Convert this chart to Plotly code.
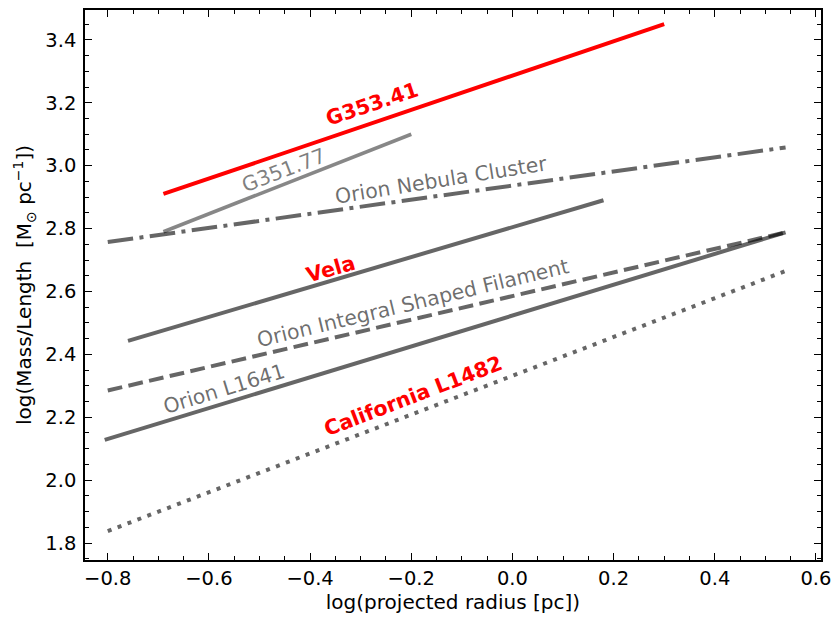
import plotly.graph_objects as go

# ---- data (log radius endpoints, log mass/length endpoints) ----
names = ["G353.41", "G351.77", "Orion Nebula Cluster", "Vela",
         "Orion Integral Shaped Filament", "Orion L1641", "California L1482"]
x_start = [-0.69, -0.69, -0.80, -0.76, -0.80, -0.806, -0.80]
x_end = [0.30, -0.20, 0.54, 0.18, 0.54, 0.54, 0.54]
y_start = [2.91, 2.79, 2.757, 2.443, 2.285, 2.128, 1.838]
y_end = [3.45, 3.10, 3.058, 2.89, 2.788, 2.788, 2.665]

# ---- styles ----
GRAY = "rgba(0,0,0,0.6)"
LGRAY = "rgba(0,0,0,0.47)"
line_colors = ["#ff0000", LGRAY, GRAY, GRAY, GRAY, GRAY, GRAY]
line_widths = [4, 3.6, 4, 4, 4, 4, 4]
line_dash = ["solid", "solid", "25.6px,6.4px,4px,6.4px", "solid",
             "14.8px,6.4px", "solid", "4px,6.6px"]

label_x = [-0.278, -0.451, -0.141, -0.359, -0.196, -0.571, -0.196]
label_y = [3.197, 2.985, 2.953, 2.671, 2.563, 2.291, 2.266]
label_angle = [-18.5, -21, -9, -16, -13.5, -17, -21]
label_color = ["#ff0000", "rgba(0,0,0,0.5)", "rgba(0,0,0,0.58)", "#ff0000",
               "rgba(0,0,0,0.58)", "rgba(0,0,0,0.58)", "#ff0000"]
label_bold = [True, False, False, True, False, False, True]

FONT = "DejaVu Sans"

fig = go.Figure()
for i, n in enumerate(names):
    fig.add_trace(go.Scatter(
        x=[x_start[i], x_end[i]], y=[y_start[i], y_end[i]], mode="lines",
        line=dict(color=line_colors[i], width=line_widths[i], dash=line_dash[i]),
        name=n, showlegend=False, hoverinfo="skip"))

for i, n in enumerate(names):
    txt = f"<b>{n}</b>" if label_bold[i] else n
    fig.add_annotation(x=label_x[i], y=label_y[i], text=txt, showarrow=False,
                       textangle=label_angle[i],
                       font=dict(family=FONT, size=20.5, color=label_color[i]),
                       xanchor="center", yanchor="middle")

axis_common = dict(
    showline=True, linecolor="black", linewidth=1.5, mirror="allticks",
    ticks="inside", ticklen=7, tickwidth=1.3, tickcolor="black",
    showgrid=False, zeroline=False,
    tickfont=dict(family=FONT, size=19.5, color="black"),
    minor=dict(ticks="inside", ticklen=4, tickwidth=1, tickcolor="black",
               dtick=0.05, showgrid=False),
)

fig.update_xaxes(range=[-0.845, 0.61], dtick=0.2, tick0=0, tickformat=".1f",
                 title=dict(text="log(projected radius [pc])",
                            font=dict(family=FONT, size=20, color="black"),
                            standoff=6),
                 **axis_common)
fig.update_yaxes(range=[1.746, 3.495], dtick=0.2, tick0=0, tickformat=".1f",
                 ticklabelstandoff=3,
                 title=dict(text="log(Mass/Length  [M<sub>⊙</sub> pc<sup>−1</sup>])",
                            font=dict(family=FONT, size=20, color="black"),
                            standoff=8),
                 **axis_common)

fig.update_layout(
    width=839, height=619,
    margin=dict(l=85, r=12, t=8, b=59),
    plot_bgcolor="white", paper_bgcolor="white",
    font=dict(family=FONT),
)

fig.write_html("out.html")
